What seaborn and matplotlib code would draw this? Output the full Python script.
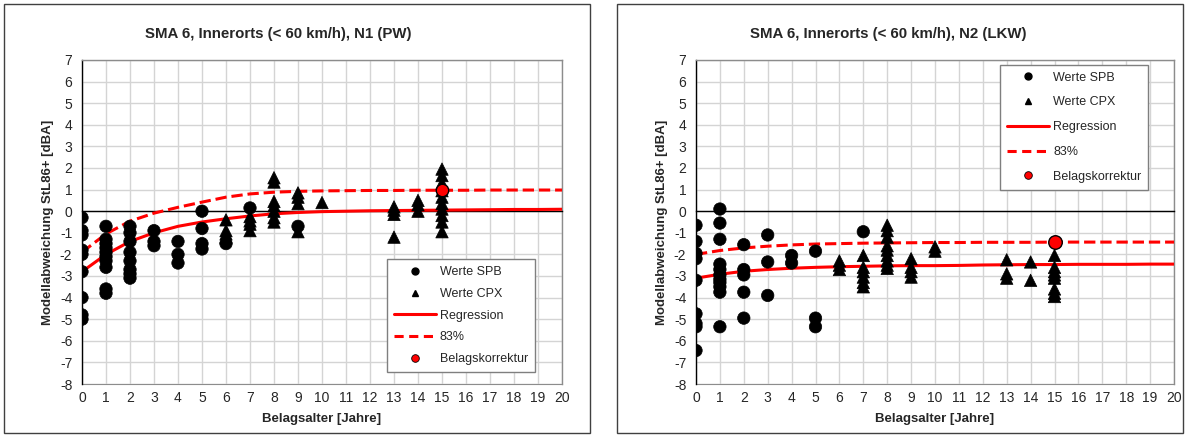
import matplotlib
matplotlib.use("Agg")
import matplotlib.pyplot as plt
from matplotlib.patches import Rectangle
from matplotlib.lines import Line2D
import seaborn as sns
import pandas as pd
import numpy as np

sns.set_style("white")
plt.rcParams['font.family'] = ['Liberation Sans', 'DejaVu Sans']
plt.rcParams['axes.unicode_minus'] = False

# ---------------- data: left panel N1 (PW) ----------------
n1_spb_x = [0]*9 + [1]*10 + [2]*8 + [3]*3 + [4]*3 + [5]*4 + [6, 7, 9]
n1_spb_y = [-0.3, -0.9, -1.1, -1.8, -2.0, -2.8, -4.0, -4.8, -5.0,
            -0.7, -1.3, -1.5, -1.7, -1.9, -2.1, -2.3, -2.6, -3.6, -3.8,
            -0.7, -1.0, -1.4, -1.9, -2.3, -2.7, -2.9, -3.1,
            -0.9, -1.4, -1.6,
            -1.4, -2.0, -2.4,
            0.0, -0.8, -1.5, -1.75,
            -1.5, 0.15, -0.7]
n1_cpx_x = [6]*4 + [7]*4 + [8]*7 + [9]*4 + [10] + [13]*4 + [14]*3 + [15]*10
n1_cpx_y = [-0.4, -0.9, -1.05, -1.2,
            -0.25, -0.45, -0.6, -0.9,
            1.55, 1.35, 0.45, 0.25, 0.0, -0.3, -0.5,
            0.85, 0.65, 0.35, -0.95,
            0.4,
            0.2, 0.05, -0.15, -1.2,
            0.5, 0.3, 0.0,
            1.95, 1.65, 1.3, 0.95, 0.65, 0.35, 0.1, -0.2, -0.5, -0.95]
n1_korr_x = [15]
n1_korr_y = [1.0]
years = list(range(0, 21))
n1_regression = [-2.8, -2.0, -1.4, -1.0, -0.7, -0.5, -0.35, -0.22, -0.12, -0.06,
                 -0.02, 0.0, 0.02, 0.03, 0.04, 0.05, 0.06, 0.07, 0.08, 0.08, 0.09]
n1_83 = [-1.9, -1.05, -0.46, -0.09, 0.18, 0.42, 0.65, 0.8, 0.88, 0.92,
         0.94, 0.95, 0.96, 0.96, 0.97, 0.97, 0.97, 0.98, 0.98, 0.98, 0.98]

# ---------------- data: right panel N2 (LKW) ----------------
n2_spb_x = [0]*9 + [1]*11 + [2]*5 + [3]*3 + [4]*2 + [5]*3 + [7]
n2_spb_y = [-0.65, -1.4, -1.95, -2.2, -3.2, -4.75, -5.2, -5.35, -6.45,
            0.1, -0.55, -1.3, -2.45, -2.7, -2.95, -3.15, -3.3, -3.5, -3.75, -5.35,
            -1.55, -2.7, -2.95, -3.75, -4.95,
            -1.1, -2.35, -3.9,
            -2.05, -2.4,
            -1.85, -4.95, -5.35,
            -0.95]
n2_cpx_x = [6]*3 + [7]*6 + [8]*9 + [9]*4 + [10]*2 + [13]*3 + [14]*2 + [15]*8
n2_cpx_y = [-2.3, -2.5, -2.7,
            -2.05, -2.6, -2.8, -3.05, -3.3, -3.5,
            -0.65, -0.9, -1.2, -1.6, -1.8, -2.05, -2.3, -2.5, -2.65,
            -2.2, -2.6, -2.8, -3.05,
            -1.65, -1.85,
            -2.25, -2.9, -3.1,
            -2.35, -3.2,
            -2.05, -2.6, -2.8, -2.95, -3.1, -3.6, -3.8, -3.95]
n2_korr_x = [15]
n2_korr_y = [-1.42]
n2_regression = [-3.1, -2.92, -2.78, -2.7, -2.64, -2.6, -2.57, -2.55, -2.53, -2.52,
                 -2.52, -2.51, -2.49, -2.48, -2.47, -2.47, -2.46, -2.46, -2.46, -2.45, -2.45]
n2_83 = [-2.0, -1.82, -1.7, -1.62, -1.56, -1.52, -1.5, -1.48, -1.47, -1.46,
         -1.45, -1.45, -1.44, -1.44, -1.44, -1.43, -1.43, -1.43, -1.43, -1.43, -1.43]

titles = ["SMA 6, Innerorts (< 60 km/h), N1 (PW)",
          "SMA 6, Innerorts (< 60 km/h), N2 (LKW)"]
xlabel = "Belagsalter [Jahre]"
ylabel = "Modellabweichung StL86+ [dBA]"
xticks = list(range(0, 21))
yticks = list(range(-8, 8))

W, H = 1187, 441
fig = plt.figure(figsize=(W/100, H/100), dpi=100)

# panel frames
for (x0, x1) in [(4, 590), (617, 1183)]:
    fig.add_artist(Rectangle((x0/W, 1-433/H), (x1-x0)/W, (433-4)/H,
                             transform=fig.transFigure, fill=False,
                             edgecolor='#404040', lw=1.0))

ax_specs = [(82, 562), (696, 1174)]
title_centers = [278, 888]
panels = [
    (n1_spb_x, n1_spb_y, n1_cpx_x, n1_cpx_y, n1_korr_x, n1_korr_y, n1_regression, n1_83,
     dict(loc='lower left', bbox_to_anchor=(0.635, 0.037), labelspacing=0.78)),
    (n2_spb_x, n2_spb_y, n2_cpx_x, n2_cpx_y, n2_korr_x, n2_korr_y, n2_regression, n2_83,
     dict(loc='upper left', bbox_to_anchor=(0.636, 0.985), labelspacing=1.02)),
]

grid_c = '#d4d4d4'
for i, ((l, r), pan) in enumerate(zip(ax_specs, panels)):
    spb_x, spb_y, cpx_x, cpx_y, kx, ky, reg, p83, legkw = pan
    ax = fig.add_axes([l/W, 1-384/H, (r-l)/W, (384-60)/H])
    ax.set_xlim(0, 20)
    ax.set_ylim(-8, 7)
    ax.set_xticks(xticks)
    ax.set_yticks(yticks)
    ax.grid(True, color=grid_c, lw=1.0)
    ax.set_axisbelow(True)

    df_pts = pd.DataFrame({
        'x': spb_x + cpx_x,
        'y': spb_y + cpx_y,
        'typ': ['Werte SPB']*len(spb_x) + ['Werte CPX']*len(cpx_x)})
    df_lines = pd.DataFrame({'x': years, 'reg': reg, 'p83': p83})

    sns.lineplot(data=df_lines, x='x', y='reg', ax=ax, color='#ff0000', lw=2.2, zorder=3)
    sns.lineplot(data=df_lines, x='x', y='p83', ax=ax, color='#ff0000', lw=2.2,
                 dashes=(3.0, 1.8), linestyle='--', zorder=3)
    sns.scatterplot(data=df_pts, x='x', y='y', style='typ',
                    markers={'Werte SPB': 'o', 'Werte CPX': '^'},
                    color='black', s=80, edgecolor='black', linewidth=0.5,
                    ax=ax, legend=False, zorder=4)
    sns.scatterplot(x=kx, y=ky, ax=ax, color='#ff0000', edgecolor='black',
                    s=95 if i == 1 else 80, linewidth=1.0, legend=False, zorder=5)

    # axes styling: x axis line crosses at y=0, labels at the bottom
    for sp in ['top', 'right']:
        ax.spines[sp].set_color('#8c8c8c')
        ax.spines[sp].set_linewidth(1.0)
    ax.spines['left'].set_color('black')
    ax.spines['left'].set_linewidth(1.0)
    ax.spines['bottom'].set_position(('data', 0))
    ax.spines['bottom'].set_color('black')
    ax.spines['bottom'].set_linewidth(1.0)
    ax.tick_params(axis='x', direction='out', length=4, width=1, color='black',
                   labelbottom=False)
    ax.tick_params(axis='y', direction='out', length=5, width=1, color='black',
                   labelsize=10, pad=2)
    sec = ax.secondary_xaxis(0.0)
    sec.set_xticks(xticks)
    sec.tick_params(length=0, labelsize=10, pad=5)
    sec.spines['bottom'].set_color('#8c8c8c')
    sec.set_xlabel(xlabel, fontsize=9.5, fontweight='bold', labelpad=6)
    ax.set_xlabel('')
    ax.set_ylabel(ylabel, fontsize=9.5, fontweight='bold', labelpad=4)
    ax.set_title(titles[i], fontsize=10.8, fontweight='bold', pad=16,
                 x=(title_centers[i]-l)/(r-l))

    handles = [
        Line2D([], [], ls='none', marker='o', color='black', ms=5),
        Line2D([], [], ls='none', marker='^', color='black', ms=5),
        Line2D([], [], color='#ff0000', lw=2.2),
        Line2D([], [], color='#ff0000', lw=2.2, dashes=(3.0, 1.8)),
        Line2D([], [], ls='none', marker='o', markerfacecolor='#ff0000',
               markeredgecolor='black', markeredgewidth=0.6, ms=5.5),
    ]
    labels = ['Werte SPB', 'Werte CPX', 'Regression', '83%', 'Belagskorrektur']
    leg = ax.legend(handles, labels, fontsize=9, handlelength=3.4,
                    handletextpad=0.3, borderpad=0.55, borderaxespad=0,
                    fancybox=False, framealpha=1, edgecolor='#7f7f7f',
                    **legkw)
    leg.get_frame().set_linewidth(1.0)

fig.savefig('out.png', dpi=100)
